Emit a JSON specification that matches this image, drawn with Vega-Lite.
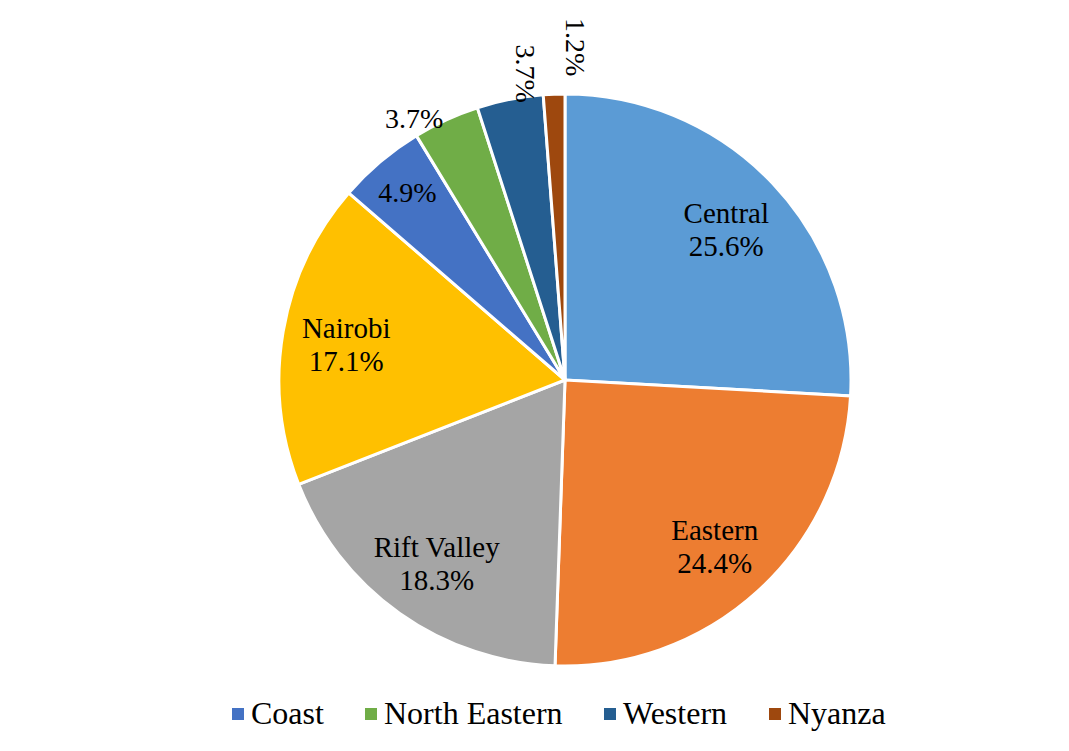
{
  "$schema": "https://vega.github.io/schema/vega-lite/v6.json",
  "width": 1116,
  "height": 746,
  "autosize": "none",
  "padding": {"left": 7, "top": 7, "right": 0, "bottom": 0},
  "background": "white",
  "config": {
    "view": {"stroke": "#d9d9d9", "strokeWidth": 2},
    "font": "Liberation Serif"
  },
  "data": {
    "values": [
      {"region": "Central", "share": 25.6},
      {"region": "Eastern", "share": 24.4},
      {"region": "Rift Valley", "share": 18.3},
      {"region": "Nairobi", "share": 17.1},
      {"region": "Coast", "share": 4.9},
      {"region": "North Eastern", "share": 3.7},
      {"region": "Western", "share": 3.7},
      {"region": "Nyanza", "share": 1.2}
    ]
  },
  "transform": [
    {"window": [{"op": "row_number", "as": "idx"}]},
    {"calculate": "format(datum.share, '.1f') + '%'", "as": "pct"},
    {"calculate": "datum.region + '\\n' + datum.pct", "as": "biglabel"}
  ],
  "encoding": {
    "theta": {"field": "share", "type": "quantitative", "stack": true},
    "order": {"field": "idx", "type": "quantitative"}
  },
  "layer": [
    {
      "mark": {"type": "arc", "outerRadius": 286, "stroke": "white", "strokeWidth": 3},
      "encoding": {
        "color": {
          "field": "region",
          "type": "nominal",
          "scale": {
            "domain": ["Central", "Eastern", "Rift Valley", "Nairobi", "Coast", "North Eastern", "Western", "Nyanza"],
            "range": ["#5B9BD5", "#ED7D31", "#A5A5A5", "#FFC000", "#4472C4", "#70AD47", "#255E91", "#9E480E"]
          },
          "legend": {
            "title": null,
            "values": ["Coast", "North Eastern", "Western", "Nyanza"],
            "orient": "none",
            "direction": "horizontal",
            "legendX": 215,
            "legendY": 691,
            "padding": 0,
            "symbolType": "square",
            "symbolSize": 144,
            "symbolStrokeWidth": 0,
            "labelFont": "Liberation Serif",
            "labelFontSize": 32,
            "labelColor": "black",
            "labelOffset": -3,
            "columnPadding": 31,
            "labelLimit": 400
          }
        }
      }
    },
    {
      "mark": {"type": "text", "radius": 222, "dy": -13, "font": "Liberation Serif", "fontSize": 29, "color": "black", "lineBreak": "\n", "lineHeight": 33, "baseline": "middle", "align": "center"},
      "encoding": {"text": {"condition": {"test": "datum.share > 10", "field": "biglabel"}, "value": ""}}
    },
    {
      "mark": {"type": "text", "radius": 244, "font": "Liberation Serif", "fontSize": 28, "color": "black", "baseline": "middle", "align": "center"},
      "encoding": {"text": {"condition": {"test": "datum.region == 'Coast'", "field": "pct"}, "value": ""}}
    },
    {
      "mark": {"type": "text", "radius": 301, "thetaOffset": -0.096, "font": "Liberation Serif", "fontSize": 28, "color": "black", "baseline": "middle", "align": "center"},
      "encoding": {"text": {"condition": {"test": "datum.region == 'North Eastern'", "field": "pct"}, "value": ""}}
    },
    {
      "mark": {"type": "text", "radius": 309, "thetaOffset": 0.061, "angle": 90, "font": "Liberation Serif", "fontSize": 28, "color": "black", "baseline": "middle", "align": "center"},
      "encoding": {"text": {"condition": {"test": "datum.region == 'Western'", "field": "pct"}, "value": ""}}
    },
    {
      "mark": {"type": "text", "radius": 333, "thetaOffset": 0.065, "angle": 90, "font": "Liberation Serif", "fontSize": 28, "color": "black", "baseline": "middle", "align": "center"},
      "encoding": {"text": {"condition": {"test": "datum.region == 'Nyanza'", "field": "pct"}, "value": ""}}
    }
  ]
}
